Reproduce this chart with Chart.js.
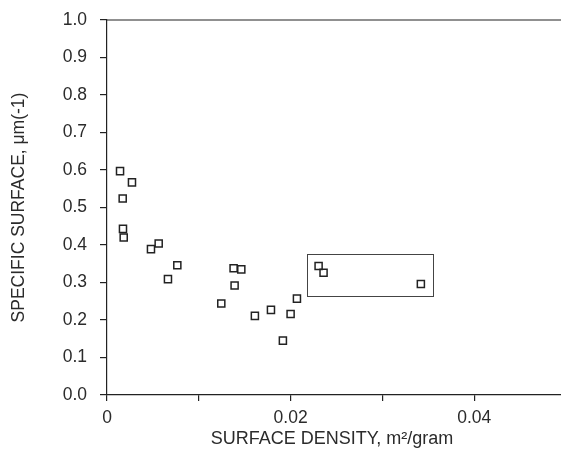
<!DOCTYPE html>
<html>
<head>
<meta charset="utf-8">
<script src="https://cdn.jsdelivr.net/npm/chart.js@4/dist/chart.umd.min.js"></script>
<style>
  html, body { margin: 0; padding: 0; background: #fff; overflow: hidden; }
  canvas { display: block; }
</style>
</head>
<body>
<canvas id="chart" width="575" height="449" style="width:575px;height:449px"></canvas>
<script>
// surface density (m2/gram) vs specific surface (um^-1)
const surfaceDensity = [0.00142, 0.00272, 0.00171, 0.00174, 0.00182, 0.00479, 0.00563, 0.00664,
  0.00766, 0.01245, 0.01379, 0.01463, 0.0139, 0.01611, 0.01786, 0.01916, 0.0200, 0.02069,
  0.02305, 0.02359, 0.03419];
const specificSurface = [0.597, 0.567, 0.524, 0.443, 0.420, 0.389, 0.404, 0.309,
  0.346, 0.244, 0.338, 0.335, 0.292, 0.211, 0.227, 0.145, 0.216, 0.257,
  0.344, 0.326, 0.296];
const yTicks = [0, 0.1, 0.2, 0.3, 0.4, 0.5, 0.6, 0.7, 0.8, 0.9, 1.0];
const xTicks = [0, 0.01, 0.02, 0.03, 0.04, 0.05];
const xLabelled = [0, 0.02, 0.04];
// box drawn round the three outlying points: [xMin, xMax, yMin, yMax]
const boxBounds = [0.0218, 0.0355, 0.265, 0.376];

const ink = '#222';
const textInk = '#2b2b2b';
const font = 'Liberation Sans, Arial, Helvetica, sans-serif';

const points = surfaceDensity.map((x, i) => ({ x, y: specificSurface[i] }));

// top border, box and axis titles are drawn by hand
const decorations = {
  id: 'decorations',
  afterDraw(chart) {
    const { ctx, chartArea, scales } = chart;
    ctx.save();
    ctx.strokeStyle = ink;
    ctx.lineWidth = 1.2;
    ctx.beginPath();
    ctx.moveTo(chartArea.left, chartArea.top);
    ctx.lineTo(chartArea.right, chartArea.top);
    ctx.stroke();

    const x0 = scales.x.getPixelForValue(boxBounds[0]);
    const x1 = scales.x.getPixelForValue(boxBounds[1]);
    const y0 = scales.y.getPixelForValue(boxBounds[3]);
    const y1 = scales.y.getPixelForValue(boxBounds[2]);
    ctx.strokeStyle = '#444';
    ctx.lineWidth = 1;
    ctx.strokeRect(Math.round(x0) + 0.5, Math.round(y0) + 0.5, Math.round(x1 - x0), Math.round(y1 - y0));

    ctx.fillStyle = textInk;
    ctx.textAlign = 'center';
    ctx.textBaseline = 'middle';
    ctx.font = '18px ' + font;
    ctx.fillText('SURFACE DENSITY, m\u00b2/gram', 332, 439);

    ctx.font = '17.5px ' + font;
    ctx.translate(19, (chartArea.top + chartArea.bottom) / 2);
    ctx.rotate(-Math.PI / 2);
    ctx.fillText('SPECIFIC SURFACE, \u03bcm(-1)', 0, 0);
    ctx.restore();
  },
};

new Chart(document.getElementById('chart'), {
  type: 'scatter',
  data: {
    datasets: [{
      data: points,
      pointStyle: 'rect',
      pointRadius: 5,
      pointHoverRadius: 5,
      borderColor: ink,
      borderWidth: 1.5,
      backgroundColor: 'rgba(0,0,0,0)',
    }],
  },
  options: {
    responsive: false,
    animation: false,
    layout: { padding: { top: 20, right: 9, left: 0, bottom: 0 } },
    plugins: { legend: { display: false }, tooltip: { enabled: false } },
    scales: {
      x: {
        type: 'linear',
        min: 0,
        max: 0.05,
        afterFit(scale) { scale.height = 54; },
        afterBuildTicks(scale) {
          scale.ticks = xTicks.map(v => ({ value: v }));
        },
        grid: { drawOnChartArea: false, drawTicks: true, tickLength: 6, color: ink, lineWidth: 1.2 },
        border: { color: ink, width: 1.2 },
        ticks: {
          color: textInk,
          font: { family: font, size: 17.5 },
          padding: 7,
          maxRotation: 0,
          autoSkip: false,
          callback: v => (xLabelled.includes(Math.round(v * 100) / 100) ? (v === 0 ? '0' : v.toFixed(2)) : ''),
        },
      },
      y: {
        type: 'linear',
        min: 0,
        max: 1,
        afterFit(scale) { scale.width = 107; },
        afterBuildTicks(scale) {
          scale.ticks = yTicks.map(v => ({ value: v }));
        },
        grid: { drawOnChartArea: false, drawTicks: true, tickLength: 7, color: ink, lineWidth: 1.2 },
        border: { color: ink, width: 1.2 },
        ticks: {
          color: textInk,
          font: { family: font, size: 17.5, lineHeight: 0.6 },
          padding: 13,
          callback: v => v.toFixed(1),
        },
      },
    },
  },
  plugins: [decorations],
});
</script>
</body>
</html>
